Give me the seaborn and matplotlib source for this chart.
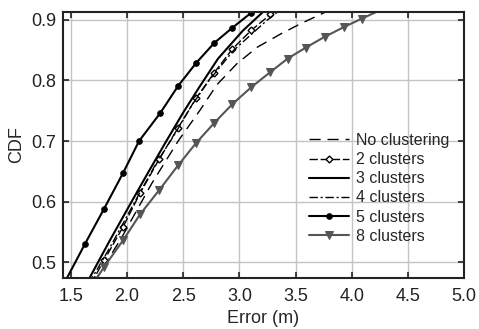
import numpy as np
import pandas as pd
import matplotlib
matplotlib.use("Agg")
import matplotlib.pyplot as plt
import seaborn as sns

# curves (error in m, CDF)
no_clust_x = [1.70, 1.95, 2.22, 2.455, 2.65, 2.80, 2.98, 3.16, 3.38, 3.56, 3.78, 3.90]
no_clust_y = [0.465, 0.54, 0.63, 0.70, 0.751, 0.793, 0.828, 0.855, 0.878, 0.895, 0.914, 0.925]

c2_x = [1.68, 1.795, 1.964, 2.116, 2.286, 2.455, 2.616, 2.777, 2.938, 3.107, 3.277, 3.40]
c2_y = [0.465, 0.503, 0.558, 0.614, 0.670, 0.722, 0.771, 0.813, 0.852, 0.883, 0.909, 0.925]

c3_x = [1.64, 1.85, 2.05, 2.20, 2.35, 2.50, 2.64, 2.81, 3.03, 3.21, 3.32]
c3_y = [0.465, 0.537, 0.603, 0.652, 0.700, 0.747, 0.788, 0.836, 0.882, 0.913, 0.93]

c4_x = [1.66, 1.85, 2.07, 2.25, 2.42, 2.58, 2.73, 2.95, 3.25, 3.34, 3.45]
c4_y = [0.465, 0.525, 0.60, 0.66, 0.71, 0.76, 0.80, 0.85, 0.90, 0.913, 0.93]

c5_x = [1.44, 1.625, 1.795, 1.964, 2.107, 2.295, 2.455, 2.616, 2.777, 2.938, 3.107, 3.25]
c5_y = [0.465, 0.530, 0.588, 0.647, 0.700, 0.746, 0.791, 0.829, 0.862, 0.887, 0.912, 0.93]

c8_x = [1.70, 1.795, 1.964, 2.116, 2.286, 2.455, 2.616, 2.777, 2.938, 3.107, 3.277,
        3.429, 3.589, 3.759, 3.929, 4.089, 4.30]
c8_y = [0.465, 0.492, 0.536, 0.579, 0.619, 0.660, 0.697, 0.730, 0.761, 0.789, 0.814,
        0.836, 0.854, 0.872, 0.888, 0.902, 0.92]

x_ticks = [1.5, 2.0, 2.5, 3.0, 3.5, 4.0, 4.5, 5.0]
y_ticks = [0.5, 0.6, 0.7, 0.8, 0.9]

sns.set_theme(style="ticks")
plt.rcParams['font.family'] = ['Liberation Sans', 'DejaVu Sans']

fig = plt.figure(figsize=(4.79, 3.29), dpi=100)
ax = fig.add_axes([0.1315, 0.155, 0.8372, 0.8085])

gray = "#555555"
inner = slice(1, -1)

sns.lineplot(x=no_clust_x, y=no_clust_y, ax=ax, sort=False, estimator=None,
             color="black", lw=1.0, linestyle=(0, (8, 5)), label="No clustering")
sns.lineplot(x=c2_x, y=c2_y, ax=ax, sort=False, estimator=None,
             color="black", lw=1.0, linestyle=(0, (6, 2)), marker="D", markersize=3.5,
             markerfacecolor="white", markeredgecolor="black", markeredgewidth=1.0,
             markevery=inner, label="2 clusters")
sns.lineplot(x=c3_x, y=c3_y, ax=ax, sort=False, estimator=None,
             color="black", lw=1.5, label="3 clusters")
sns.lineplot(x=c4_x, y=c4_y, ax=ax, sort=False, estimator=None,
             color="black", lw=1.0, linestyle=(0, (6, 2, 1.5, 2)), label="4 clusters")
sns.lineplot(x=c5_x, y=c5_y, ax=ax, sort=False, estimator=None,
             color="black", lw=1.5, marker="o", markersize=4,
             markerfacecolor="black", markeredgecolor="black",
             markevery=inner, label="5 clusters")
sns.lineplot(x=c8_x, y=c8_y, ax=ax, sort=False, estimator=None,
             color=gray, lw=1.5, marker="v", markersize=6,
             markerfacecolor=gray, markeredgecolor=gray,
             markevery=inner, label="8 clusters")

ax.set_xlim(1.43, 5.0)
ax.set_ylim(0.474, 0.913)
ax.set_xticks(x_ticks)
ax.set_yticks(y_ticks)
ax.set_xticklabels([f"{v:.1f}" for v in x_ticks])
ax.set_yticklabels([f"{v:.1f}" for v in y_ticks])
ax.grid(True, color="#c4c4c4", lw=1.0)
ax.set_axisbelow(True)
ax.tick_params(direction="in", length=4, width=1.2, top=True, right=True,
               labelsize=13, colors="#222222", labelcolor="#222222", pad=5)
ax.tick_params(axis="x", pad=7)
for s in ax.spines.values():
    s.set_linewidth(1.5)
    s.set_color("#222222")

ax.set_xlabel("Error (m)", fontsize=13, labelpad=4)
ax.set_ylabel("CDF", fontsize=13, labelpad=4)

ax.legend(loc="upper left", bbox_to_anchor=(0.613, 0.545), frameon=False,
          borderpad=0, borderaxespad=0, handlelength=2.5, handletextpad=0.45,
          labelspacing=0.26, fontsize=11.5)

fig.savefig("out.png", dpi=100)
